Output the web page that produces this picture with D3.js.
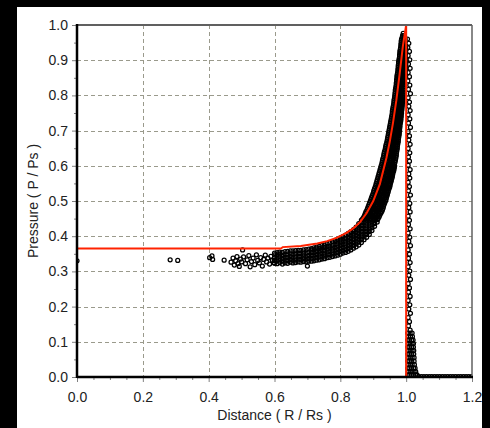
<!DOCTYPE html>
<html>
<head>
<meta charset="utf-8">
<script src="https://cdn.jsdelivr.net/npm/d3@7.9.0/dist/d3.min.js"></script>
<style>
  html, body { margin: 0; padding: 0; background: #000; }
  svg { display: block; }
  text { font-family: "Liberation Sans", Arial, sans-serif; }
</style>
</head>
<body>
<div id="chart"></div>
<script>
// axis ticks
const xTicks = [0, 0.2, 0.4, 0.6, 0.8, 1.0, 1.2];
const yTicks = [0, 0.1, 0.2, 0.3, 0.4, 0.5, 0.6, 0.7, 0.8, 0.9, 1.0];
const xMinor = [0.05, 0.1, 0.15, 0.25, 0.3, 0.35, 0.45, 0.5, 0.55, 0.65, 0.7, 0.75, 0.85, 0.9, 0.95, 1.05, 1.1, 1.15];
const yMinor = [0.05, 0.15, 0.25, 0.35, 0.45, 0.55, 0.65, 0.75, 0.85, 0.95];

// theory curve (red)
const theoryX = [0.0, 0.62, 0.625, 0.68, 0.73, 0.76, 0.79, 0.82, 0.84, 0.86, 0.88, 0.90, 0.92, 0.94, 0.95, 0.96, 0.97, 0.98, 0.99, 1.0, 1.0];
const theoryY = [0.365, 0.365, 0.369, 0.372, 0.379, 0.386, 0.396, 0.41, 0.423, 0.44, 0.466, 0.5, 0.548, 0.622, 0.668, 0.722, 0.785, 0.86, 0.94, 1.0, 0.0];

// simulation points, core region (sparse)
const sparsePts = [
  [0.0, 0.33], [0.283, 0.333], [0.306, 0.331],
  [0.403, 0.339], [0.41, 0.344], [0.412, 0.334], [0.447, 0.332],
  [0.468, 0.326], [0.474, 0.338], [0.478, 0.318], [0.482, 0.33], [0.486, 0.342], [0.489, 0.322],
  [0.493, 0.314], [0.497, 0.335], [0.5, 0.327], [0.503, 0.361], [0.506, 0.341],
  [0.512, 0.322], [0.517, 0.333], [0.522, 0.345], [0.526, 0.313], [0.53, 0.328], [0.535, 0.338],
  [0.54, 0.319], [0.545, 0.347], [0.549, 0.331], [0.554, 0.324], [0.558, 0.339], [0.563, 0.315],
  [0.567, 0.334], [0.572, 0.346], [0.576, 0.327], [0.58, 0.338], [0.585, 0.321], [0.589, 0.343],
  [0.594, 0.331], [0.598, 0.325], [0.70, 0.315]
];

// dense band, read as columns: [x, y values]
const bandColumns = [
  [0.600, [0.323, 0.331, 0.339, 0.347, 0.352]],
  [0.608, [0.322, 0.330, 0.338, 0.346, 0.353]],
  [0.616, [0.325, 0.333, 0.341, 0.349, 0.355]],
  [0.624, [0.321, 0.329, 0.337, 0.345, 0.354]],
  [0.632, [0.324, 0.332, 0.340, 0.348, 0.356]],
  [0.640, [0.323, 0.331, 0.339, 0.347, 0.357]],
  [0.648, [0.326, 0.334, 0.342, 0.350, 0.358]],
  [0.656, [0.324, 0.332, 0.340, 0.349, 0.358]],
  [0.664, [0.325, 0.333, 0.341, 0.350, 0.359]],
  [0.672, [0.327, 0.335, 0.343, 0.351, 0.360]],
  [0.680, [0.326, 0.334, 0.342, 0.351, 0.360]],
  [0.688, [0.328, 0.336, 0.344, 0.352, 0.361]],
  [0.696, [0.327, 0.335, 0.343, 0.352, 0.362]],
  [0.704, [0.329, 0.337, 0.345, 0.354, 0.363]],
  [0.712, [0.329, 0.337, 0.345, 0.353, 0.361, 0.365]],
  [0.720, [0.330, 0.338, 0.346, 0.354, 0.362, 0.367]],
  [0.728, [0.332, 0.340, 0.348, 0.356, 0.364, 0.369]],
  [0.736, [0.333, 0.341, 0.349, 0.357, 0.365, 0.371]],
  [0.744, [0.335, 0.343, 0.351, 0.359, 0.367, 0.373]],
  [0.752, [0.336, 0.344, 0.352, 0.360, 0.368, 0.375]],
  [0.760, [0.339, 0.347, 0.355, 0.363, 0.371, 0.378]],
  [0.768, [0.340, 0.348, 0.356, 0.364, 0.372, 0.381]],
  [0.776, [0.342, 0.350, 0.358, 0.366, 0.374, 0.384]],
  [0.784, [0.344, 0.352, 0.360, 0.368, 0.376, 0.384, 0.388]],
  [0.792, [0.346, 0.354, 0.362, 0.370, 0.378, 0.386, 0.392]],
  [0.800, [0.349, 0.357, 0.365, 0.373, 0.381, 0.389, 0.395]],
  [0.808, [0.352, 0.360, 0.368, 0.376, 0.384, 0.392, 0.399]],
  [0.816, [0.354, 0.362, 0.370, 0.378, 0.386, 0.394, 0.403]],
  [0.824, [0.357, 0.365, 0.373, 0.381, 0.389, 0.397, 0.405, 0.408]],
  [0.832, [0.361, 0.369, 0.377, 0.385, 0.393, 0.401, 0.409, 0.413]],
  [0.840, [0.366, 0.374, 0.382, 0.390, 0.398, 0.406, 0.414, 0.419]],
  [0.848, [0.370, 0.378, 0.386, 0.394, 0.402, 0.410, 0.418, 0.426]],
  [0.856, [0.375, 0.383, 0.391, 0.399, 0.407, 0.415, 0.423, 0.431, 0.436]],
  [0.864, [0.382, 0.390, 0.398, 0.406, 0.414, 0.422, 0.430, 0.438, 0.446]],
  [0.872, [0.390, 0.398, 0.406, 0.414, 0.422, 0.430, 0.438, 0.446, 0.455]],
  [0.880, [0.397, 0.405, 0.413, 0.421, 0.429, 0.437, 0.445]],
  [0.888, [0.405, 0.413, 0.421, 0.429, 0.437, 0.445]],
  [0.896, [0.416, 0.424, 0.432, 0.440, 0.447]],
  [0.904, [0.428, 0.436, 0.444]],
  [0.912, [0.440, 0.447]]
];

// dense band near the peak, read as rows: [y, x values]
const bandRows = [
  [0.45, [0.868, 0.876, 0.884, 0.892, 0.900, 0.908, 0.915]],
  [0.455, [0.872, 0.880, 0.888, 0.896, 0.904, 0.912, 0.918]],
  [0.46, [0.874, 0.882, 0.890, 0.898, 0.906, 0.914, 0.920]],
  [0.465, [0.876, 0.884, 0.892, 0.900, 0.908, 0.916, 0.923]],
  [0.47, [0.878, 0.886, 0.894, 0.902, 0.910, 0.918, 0.926]],
  [0.475, [0.881, 0.889, 0.897, 0.905, 0.913, 0.921, 0.928]],
  [0.48, [0.883, 0.891, 0.899, 0.907, 0.915, 0.923, 0.930]],
  [0.485, [0.885, 0.893, 0.901, 0.909, 0.917, 0.925, 0.931]],
  [0.49, [0.887, 0.895, 0.903, 0.911, 0.919, 0.927, 0.933]],
  [0.495, [0.889, 0.897, 0.905, 0.913, 0.921, 0.929, 0.935]],
  [0.50, [0.891, 0.899, 0.907, 0.915, 0.923, 0.931, 0.937]],
  [0.505, [0.893, 0.901, 0.909, 0.917, 0.925, 0.933, 0.939]],
  [0.51, [0.895, 0.903, 0.911, 0.919, 0.927, 0.935, 0.940]],
  [0.515, [0.897, 0.905, 0.913, 0.921, 0.929, 0.937, 0.942]],
  [0.52, [0.899, 0.907, 0.915, 0.923, 0.931, 0.938, 0.943]],
  [0.525, [0.901, 0.909, 0.917, 0.925, 0.933, 0.940, 0.945]],
  [0.53, [0.902, 0.910, 0.918, 0.926, 0.934, 0.941, 0.946]],
  [0.535, [0.904, 0.912, 0.920, 0.928, 0.936, 0.943, 0.948]],
  [0.54, [0.906, 0.914, 0.922, 0.930, 0.938, 0.945, 0.950]],
  [0.545, [0.908, 0.916, 0.924, 0.932, 0.940, 0.947, 0.951]],
  [0.55, [0.909, 0.917, 0.925, 0.933, 0.941, 0.948, 0.952]],
  [0.555, [0.911, 0.919, 0.927, 0.935, 0.943, 0.950, 0.954]],
  [0.56, [0.912, 0.920, 0.928, 0.936, 0.944, 0.951, 0.955]],
  [0.565, [0.914, 0.922, 0.930, 0.938, 0.946, 0.952, 0.957]],
  [0.57, [0.915, 0.923, 0.931, 0.939, 0.947, 0.953, 0.958]],
  [0.575, [0.917, 0.925, 0.933, 0.941, 0.949, 0.955, 0.959]],
  [0.58, [0.918, 0.926, 0.934, 0.942, 0.950, 0.956, 0.960]],
  [0.585, [0.920, 0.928, 0.936, 0.944, 0.952, 0.958, 0.962]],
  [0.59, [0.921, 0.929, 0.937, 0.945, 0.953, 0.959, 0.963]],
  [0.595, [0.923, 0.931, 0.939, 0.947, 0.955, 0.961, 0.964]],
  [0.60, [0.924, 0.932, 0.940, 0.948, 0.956, 0.962, 0.965]],
  [0.605, [0.926, 0.934, 0.942, 0.950, 0.958, 0.964]],
  [0.61, [0.927, 0.935, 0.943, 0.951, 0.959, 0.966]],
  [0.615, [0.928, 0.936, 0.944, 0.952, 0.960, 0.967]],
  [0.62, [0.929, 0.937, 0.945, 0.953, 0.961, 0.968]],
  [0.625, [0.931, 0.939, 0.947, 0.955, 0.962, 0.969]],
  [0.63, [0.932, 0.940, 0.948, 0.956, 0.963, 0.970]],
  [0.635, [0.933, 0.941, 0.949, 0.957, 0.964, 0.970]],
  [0.64, [0.934, 0.942, 0.950, 0.958, 0.965, 0.971]],
  [0.645, [0.936, 0.944, 0.952, 0.959, 0.966, 0.972]],
  [0.65, [0.937, 0.945, 0.953, 0.960, 0.967, 0.973]],
  [0.655, [0.938, 0.946, 0.954, 0.961, 0.968, 0.973]],
  [0.66, [0.939, 0.947, 0.955, 0.962, 0.969, 0.974]],
  [0.665, [0.941, 0.949, 0.956, 0.963, 0.970, 0.975]],
  [0.67, [0.942, 0.950, 0.957, 0.964, 0.971, 0.976]],
  [0.675, [0.943, 0.951, 0.958, 0.965, 0.971, 0.976]],
  [0.68, [0.944, 0.952, 0.959, 0.966, 0.972, 0.977]],
  [0.685, [0.945, 0.953, 0.960, 0.967, 0.973, 0.978]],
  [0.69, [0.946, 0.954, 0.961, 0.968, 0.974, 0.979]],
  [0.695, [0.947, 0.955, 0.962, 0.969, 0.975, 0.979]],
  [0.70, [0.948, 0.956, 0.963, 0.970, 0.976, 0.980]],
  [0.705, [0.949, 0.957, 0.964, 0.971, 0.976, 0.980]],
  [0.71, [0.950, 0.958, 0.965, 0.972, 0.977, 0.981]],
  [0.715, [0.951, 0.959, 0.966, 0.972, 0.978, 0.981]],
  [0.72, [0.952, 0.960, 0.967, 0.973, 0.979, 0.982]],
  [0.725, [0.953, 0.961, 0.968, 0.974, 0.979, 0.983]],
  [0.73, [0.954, 0.962, 0.969, 0.975, 0.980, 0.984]],
  [0.735, [0.955, 0.962, 0.969, 0.975, 0.980, 0.984]],
  [0.74, [0.956, 0.963, 0.970, 0.976, 0.981, 0.985]],
  [0.745, [0.957, 0.964, 0.971, 0.977, 0.982, 0.985]],
  [0.75, [0.958, 0.965, 0.972, 0.978, 0.983, 0.986]],
  [0.755, [0.958, 0.965, 0.972, 0.978, 0.983, 0.986]],
  [0.76, [0.959, 0.966, 0.973, 0.979, 0.984, 0.987]],
  [0.765, [0.960, 0.967, 0.974, 0.980, 0.984, 0.987]],
  [0.77, [0.961, 0.968, 0.975, 0.981, 0.985, 0.988]],
  [0.775, [0.962, 0.969, 0.975, 0.981, 0.985, 0.988]],
  [0.78, [0.963, 0.970, 0.976, 0.982, 0.986, 0.989]],
  [0.785, [0.963, 0.970, 0.976, 0.982, 0.986, 0.989]],
  [0.79, [0.964, 0.971, 0.977, 0.983, 0.987, 0.990]],
  [0.795, [0.965, 0.972, 0.978, 0.984, 0.989]],
  [0.80, [0.966, 0.973, 0.979, 0.985, 0.991]],
  [0.805, [0.966, 0.973, 0.979, 0.985, 0.991]],
  [0.81, [0.967, 0.974, 0.980, 0.986, 0.992]],
  [0.815, [0.967, 0.974, 0.980, 0.986, 0.992]],
  [0.82, [0.968, 0.975, 0.981, 0.987, 0.993]],
  [0.825, [0.969, 0.975, 0.981, 0.987, 0.993]],
  [0.83, [0.970, 0.976, 0.982, 0.988, 0.994]],
  [0.835, [0.970, 0.976, 0.982, 0.988, 0.994]],
  [0.84, [0.971, 0.977, 0.983, 0.989, 0.995]],
  [0.845, [0.971, 0.977, 0.983, 0.989, 0.995]],
  [0.85, [0.972, 0.978, 0.984, 0.990, 0.996]],
  [0.855, [0.972, 0.978, 0.984, 0.990, 0.996]],
  [0.86, [0.973, 0.979, 0.985, 0.991, 0.997]],
  [0.865, [0.974, 0.980, 0.986, 0.992, 0.997]],
  [0.87, [0.975, 0.981, 0.987, 0.993, 0.997]],
  [0.875, [0.975, 0.981, 0.987, 0.993, 0.998]],
  [0.88, [0.976, 0.982, 0.988, 0.994, 0.998]],
  [0.885, [0.976, 0.982, 0.988, 0.994, 0.998]],
  [0.89, [0.977, 0.983, 0.989, 0.995, 0.999]],
  [0.895, [0.977, 0.983, 0.989, 0.995, 0.999]],
  [0.90, [0.978, 0.984, 0.990, 0.996, 1.000]],
  [0.905, [0.979, 0.985, 0.991, 0.996]],
  [0.91, [0.980, 0.986, 0.992, 0.997]],
  [0.915, [0.980, 0.986, 0.992, 0.997]],
  [0.92, [0.981, 0.987, 0.993, 0.998]],
  [0.925, [0.981, 0.987, 0.993, 0.998]],
  [0.93, [0.982, 0.988, 0.994, 0.999]],
  [0.935, [0.983, 0.989, 0.994, 0.998]],
  [0.94, [0.984, 0.990, 0.995, 0.999]],
  [0.945, [0.984, 0.990, 0.995]],
  [0.95, [0.985, 0.991, 0.996]],
  [0.955, [0.985, 0.991, 0.996]],
  [0.96, [0.986, 0.992, 0.997]],
  [0.965, [0.988, 0.993]],
  [0.97, [0.989, 0.994]],
  [0.976, [0.991]]
];

// falling side just past the shock
const fallPts = [
  [1.004, 0.96], [1.008, 0.948], [1.005, 0.936], [1.010, 0.925], [1.006, 0.913], [1.011, 0.901],
  [1.007, 0.889], [1.012, 0.877], [1.006, 0.865], [1.010, 0.853], [1.005, 0.841], [1.011, 0.829],
  [1.007, 0.817], [1.013, 0.805], [1.006, 0.793], [1.010, 0.781], [1.008, 0.769], [1.012, 0.757],
  [1.006, 0.745], [1.011, 0.733], [1.007, 0.721], [1.013, 0.709], [1.006, 0.697], [1.010, 0.685],
  [1.008, 0.673], [1.012, 0.661], [1.006, 0.649], [1.011, 0.637], [1.007, 0.625], [1.010, 0.613],
  [1.006, 0.601], [1.012, 0.589], [1.008, 0.577], [1.011, 0.565], [1.006, 0.553], [1.010, 0.541],
  [1.007, 0.529], [1.013, 0.517], [1.006, 0.505], [1.011, 0.493], [1.008, 0.481], [1.012, 0.469],
  [1.006, 0.457], [1.010, 0.445], [1.007, 0.433], [1.012, 0.421], [1.006, 0.409], [1.011, 0.397],
  [1.008, 0.385], [1.013, 0.373], [1.006, 0.361], [1.010, 0.349], [1.007, 0.337], [1.012, 0.325],
  [1.006, 0.313], [1.011, 0.301], [1.008, 0.289], [1.013, 0.277], [1.006, 0.265], [1.010, 0.253],
  [1.007, 0.241], [1.012, 0.229], [1.006, 0.217], [1.011, 0.205], [1.008, 0.193], [1.013, 0.181],
  [1.006, 0.169], [1.010, 0.157], [1.007, 0.145], [1.012, 0.133]
];

// foot of the shock, rows: [y, x values]
const footRows = [
  [0.125, [1.005, 1.012, 1.018]],
  [0.115, [1.007, 1.013, 1.019]],
  [0.105, [1.005, 1.011, 1.017, 1.021]],
  [0.095, [1.006, 1.012, 1.018, 1.022]],
  [0.085, [1.005, 1.011, 1.017, 1.022]],
  [0.075, [1.006, 1.012, 1.018, 1.023]],
  [0.065, [1.005, 1.011, 1.017, 1.023]],
  [0.055, [1.006, 1.012, 1.018, 1.024]],
  [0.045, [1.005, 1.011, 1.017, 1.024]],
  [0.035, [1.006, 1.012, 1.018, 1.025]],
  [0.025, [1.005, 1.011, 1.017, 1.023, 1.027]],
  [0.015, [1.006, 1.012, 1.018, 1.024, 1.029]],
  [0.006, [1.005, 1.011, 1.017, 1.023, 1.029, 1.033]]
];

// undisturbed gas ahead of the shock (y = 0)
const tailX = [1.038, 1.046, 1.054, 1.062, 1.070, 1.078, 1.086, 1.094, 1.102, 1.110, 1.118,
  1.126, 1.134, 1.142, 1.150, 1.158, 1.166, 1.174, 1.182, 1.190, 1.198];

const width = 490, height = 428;
const plot = { left: 77, right: 472, top: 25, bottom: 377 };

const points = [
  ...sparsePts,
  ...bandColumns.flatMap(([x, ys]) => ys.map(y => [x, y])),
  ...bandRows.flatMap(([y, xs]) => xs.map(x => [x, y])),
  ...fallPts,
  ...footRows.flatMap(([y, xs]) => xs.map(x => [x, y])),
  ...tailX.map(x => [x, 0.001])
];

const theory = theoryX.map((x, i) => [x, theoryY[i]]);

const svg = d3.select('#chart').append('svg')
  .attr('width', width)
  .attr('height', height);

// black frame, white panel
svg.append('rect').attr('width', width).attr('height', height).attr('fill', '#000');
svg.append('rect').attr('x', 17).attr('y', 7).attr('width', 465).attr('height', 421).attr('fill', '#fff');

const x = d3.scaleLinear().domain([0, 1.2]).range([plot.left, plot.right]);
const y = d3.scaleLinear().domain([0, 1.0]).range([plot.bottom, plot.top]);

svg.append('defs').append('clipPath').attr('id', 'clip')
  .append('rect')
  .attr('x', plot.left).attr('y', plot.top)
  .attr('width', plot.right - plot.left).attr('height', plot.bottom - plot.top);

// gridlines
const grid = svg.append('g').attr('class', 'grid')
  .attr('stroke', '#9a9a8c').attr('stroke-width', 1).attr('stroke-dasharray', '4,3');
grid.selectAll('line.h')
  .data(yTicks.filter(d => d > 0 && d < 1))
  .join('line').attr('class', 'h')
  .attr('x1', plot.left).attr('x2', plot.right)
  .attr('y1', d => Math.round(y(d)) + 0.5).attr('y2', d => Math.round(y(d)) + 0.5);
grid.selectAll('line.v')
  .data(xTicks.filter(d => d > 0 && d < 1.2))
  .join('line').attr('class', 'v')
  .attr('y1', plot.top).attr('y2', plot.bottom)
  .attr('x1', d => Math.round(x(d)) + 0.5).attr('x2', d => Math.round(x(d)) + 0.5);

// axes (ticks + labels)
const fmt = d3.format('.1f');
const xAxis = svg.append('g')
  .attr('transform', `translate(0,${plot.bottom})`)
  .call(d3.axisBottom(x).tickValues(xTicks).tickSize(5).tickPadding(10).tickFormat(fmt));
const xAxisMinor = svg.append('g')
  .attr('transform', `translate(0,${plot.bottom})`)
  .call(d3.axisBottom(x).tickValues(xMinor).tickSize(3).tickFormat(''));
const yAxis = svg.append('g')
  .attr('transform', `translate(${plot.left},0)`)
  .call(d3.axisLeft(y).tickValues(yTicks).tickSize(5).tickPadding(4).tickFormat(fmt));
const yAxisMinor = svg.append('g')
  .attr('transform', `translate(${plot.left},0)`)
  .call(d3.axisLeft(y).tickValues(yMinor).tickSize(3).tickFormat(''));

[xAxis, xAxisMinor, yAxis, yAxisMinor].forEach(g => {
  g.select('.domain').remove();
  g.selectAll('line').attr('stroke', '#808080');
  g.selectAll('text')
    .attr('fill', '#222')
    .style('font-size', '14px')
    .style('font-family', '"Liberation Sans", Arial, sans-serif');
});

// scatter of simulation points
svg.append('g').attr('clip-path', 'url(#clip)')
  .selectAll('circle')
  .data(points)
  .join('circle')
  .attr('cx', d => x(d[0]))
  .attr('cy', d => y(d[1]))
  .attr('r', 2)
  .attr('fill', 'none')
  .attr('stroke', '#000')
  .attr('stroke-width', 1.25);

// theory line
const line = d3.line().x(d => x(d[0])).y(d => y(d[1]));
svg.append('path')
  .datum(theory)
  .attr('clip-path', 'url(#clip)')
  .attr('d', line)
  .attr('fill', 'none')
  .attr('stroke', '#ff2200')
  .attr('stroke-width', 2);

// plot frame: grey top/right, black left/bottom
svg.append('line')
  .attr('x1', plot.left).attr('x2', plot.right)
  .attr('y1', plot.top).attr('y2', plot.top)
  .attr('stroke', '#606060').attr('stroke-width', 2);
svg.append('line')
  .attr('x1', plot.right).attr('x2', plot.right)
  .attr('y1', plot.top).attr('y2', plot.bottom)
  .attr('stroke', '#606060').attr('stroke-width', 1.5);
svg.append('line')
  .attr('x1', plot.left).attr('x2', plot.left)
  .attr('y1', plot.top - 1).attr('y2', plot.bottom + 1)
  .attr('stroke', '#000').attr('stroke-width', 2.5);
svg.append('line')
  .attr('x1', plot.left).attr('x2', plot.right + 1)
  .attr('y1', plot.bottom).attr('y2', plot.bottom)
  .attr('stroke', '#000').attr('stroke-width', 2.5);

// axis titles
svg.append('text')
  .attr('x', (plot.left + plot.right) / 2)
  .attr('y', 420)
  .attr('text-anchor', 'middle')
  .attr('fill', '#222')
  .style('font-size', '14px')
  .text('Distance ( R / Rs )');

svg.append('text')
  .attr('transform', `translate(38,${(plot.top + plot.bottom) / 2}) rotate(-90)`)
  .attr('text-anchor', 'middle')
  .attr('fill', '#222')
  .style('font-size', '14px')
  .text('Pressure ( P / Ps )');
</script>
</body>
</html>
